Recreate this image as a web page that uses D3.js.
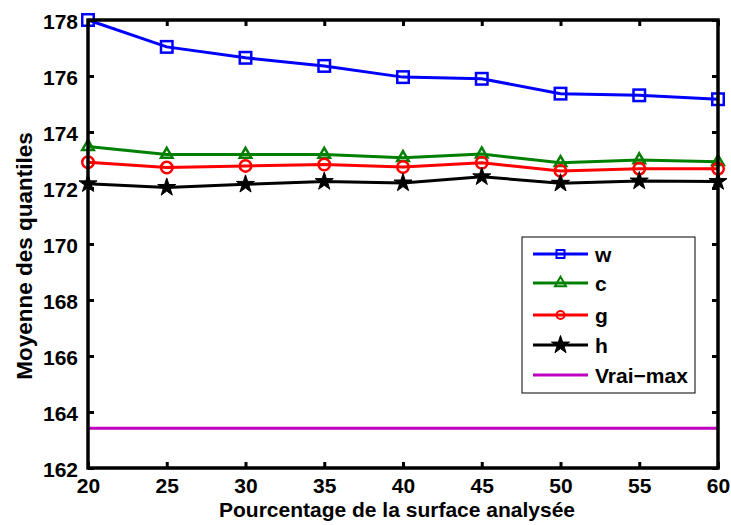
<!DOCTYPE html>
<html>
<head>
<meta charset="utf-8">
<script src="https://cdn.jsdelivr.net/npm/d3@7"></script>
<style>
  body { margin: 0; background: #fff; }
  text { font-family: "Liberation Sans", Arial, sans-serif; font-weight: bold; }
</style>
</head>
<body>
<svg id="chart" width="731" height="525"></svg>
<script>
// Data
const percentages = [20, 25, 30, 35, 40, 45, 50, 55, 60];
const wValues = [178.0, 177.04, 176.65, 176.36, 175.96, 175.90, 175.37, 175.31, 175.17];
const cValues = [173.48, 173.20, 173.20, 173.20, 173.08, 173.21, 172.90, 173.00, 172.94];
const gValues = [172.92, 172.73, 172.79, 172.84, 172.75, 172.90, 172.61, 172.69, 172.69];
const hValues = [172.15, 172.02, 172.13, 172.23, 172.18, 172.40, 172.17, 172.25, 172.23];
const vraiMax = 163.42;
const yTicks = [162, 164, 166, 168, 170, 172, 174, 176, 178];
const seriesNames = ["w", "c", "g", "h", "Vrai\u2212max"];

const margin = { top: 20, right: 13, bottom: 57, left: 88 };
const width = 731 - margin.left - margin.right;
const height = 525 - margin.top - margin.bottom;

const svg = d3.select("#chart");
const g = svg.append("g").attr("transform", `translate(${margin.left}, ${margin.top})`);

const xScale = d3.scaleLinear().domain([20, 60]).range([0, width]);
const yScale = d3.scaleLinear().domain([162, 178]).range([height, 0]);

// Series
const series = [
  { name: seriesNames[0], values: wValues, color: "#0000ff", marker: "square" },
  { name: seriesNames[1], values: cValues, color: "#008000", marker: "triangle" },
  { name: seriesNames[2], values: gValues, color: "#ff0000", marker: "circle" },
  { name: seriesNames[3], values: hValues, color: "#000000", marker: "star" }
];

const line = d3.line()
  .x((d, i) => xScale(percentages[i]))
  .y(d => yScale(d));

// Horizontal reference line
g.append("line")
  .attr("x1", xScale(20))
  .attr("x2", xScale(60))
  .attr("y1", yScale(vraiMax))
  .attr("y2", yScale(vraiMax))
  .attr("stroke", "#bf00bf")
  .attr("stroke-width", 3);

// Marker drawing, size is the approximate outer width in px
function drawMarker(sel, type, color, size, sw)
{
  if (type === "square")
  {
    const s = size - sw;
    sel.append("rect")
      .attr("x", -s / 2).attr("y", -s / 2)
      .attr("width", s).attr("height", s)
      .attr("fill", "none").attr("stroke", color).attr("stroke-width", sw);
  }
  else if (type === "triangle")
  {
    const side = size - sw;
    const area = (side * side) * Math.sqrt(3) / 4;
    sel.append("path")
      .attr("d", d3.symbol(d3.symbolTriangle, area)())
      .attr("fill", "none").attr("stroke", color).attr("stroke-width", sw);
  }
  else if (type === "circle")
  {
    sel.append("circle")
      .attr("r", (size - sw) / 2)
      .attr("fill", "none").attr("stroke", color).attr("stroke-width", sw);
  }
  else if (type === "star")
  {
    const r = size / 2;
    sel.append("path")
      .attr("d", d3.symbol(d3.symbolStar, r * r / 0.8908130915)())
      .attr("fill", color).attr("stroke", color).attr("stroke-width", 1);
  }
}

series.forEach(s =>
{
  g.append("path")
    .datum(s.values)
    .attr("d", line)
    .attr("fill", "none")
    .attr("stroke", s.color)
    .attr("stroke-width", 3);

  s.values.forEach((v, i) =>
  {
    const m = g.append("g").attr("transform", `translate(${xScale(percentages[i])}, ${yScale(v)})`);
    drawMarker(m, s.marker, s.color, s.marker === "star" ? 19 : 14, 2.5);
  });
});

// Axes with inward ticks on all sides
const xAxis = d3.axisBottom(xScale).tickValues(percentages).tickSizeInner(-6).tickSizeOuter(0).tickPadding(10);
const yAxis = d3.axisLeft(yScale).tickValues(yTicks).tickSizeInner(-6).tickSizeOuter(0).tickPadding(10);

const gx = g.append("g").attr("transform", `translate(0, ${height})`).call(xAxis);
gx.selectAll("text").attr("font-size", "21px").attr("fill", "black");
const gy = g.append("g").call(yAxis);
gy.selectAll("text").attr("font-size", "21px").attr("fill", "black").attr("dy", "0.42em");

g.append("g").call(d3.axisTop(xScale).tickValues(percentages).tickSizeInner(-6).tickSizeOuter(0).tickFormat(""));
g.append("g").attr("transform", `translate(${width}, 0)`)
  .call(d3.axisRight(yScale).tickValues(yTicks).tickSizeInner(-6).tickSizeOuter(0).tickFormat(""));

g.selectAll(".domain").remove();
g.selectAll(".tick line").attr("stroke", "black").attr("stroke-width", 3);

// Frame
g.append("rect")
  .attr("width", width).attr("height", height)
  .attr("fill", "none").attr("stroke", "black").attr("stroke-width", 3.5);

// Axis labels
svg.append("text")
  .attr("x", margin.left + width / 2 - 6)
  .attr("y", 517)
  .attr("text-anchor", "middle")
  .attr("font-size", "21px")
  .text("Pourcentage de la surface analysée");

svg.append("text")
  .attr("transform", "rotate(-90)")
  .attr("x", -256)
  .attr("y", 32)
  .attr("text-anchor", "middle")
  .attr("font-size", "22.5px")
  .text("Moyenne des quantiles");

// Legend
const legend = svg.append("g").attr("transform", "translate(522, 237)");
legend.append("rect")
  .attr("width", 173).attr("height", 156)
  .attr("fill", "white").attr("stroke", "black").attr("stroke-width", 1);

const legendItems = series.concat([{ name: seriesNames[4], color: "#bf00bf", marker: null }]);
const legendY = [17, 46, 78, 108, 138];
legendItems.forEach((s, i) =>
{
  const row = legend.append("g").attr("transform", `translate(0, ${legendY[i]})`);
  row.append("line")
    .attr("x1", 11).attr("x2", 66)
    .attr("stroke", s.color).attr("stroke-width", 3);
  if (s.marker)
  {
    const m = row.append("g").attr("transform", "translate(38.5, 0)");
    drawMarker(m, s.marker, s.color, s.marker === "star" ? 19 : (s.marker === "triangle" ? 13 : 10), 2);
  }
  row.append("text")
    .attr("x", 73).attr("y", 8)
    .attr("font-size", "21px")
    .text(s.name);
});
</script>
</body>
</html>
